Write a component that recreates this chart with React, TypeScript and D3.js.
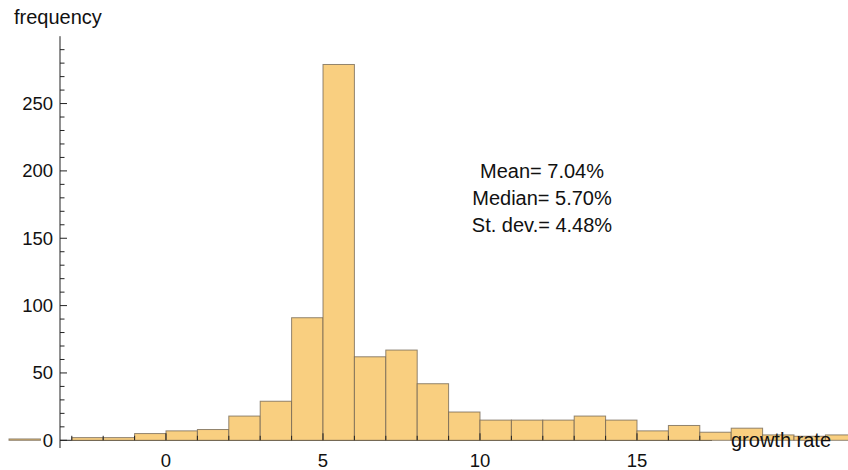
import React, { useEffect, useRef } from "react";
import * as d3 from "d3";

// histogram bins (left edges, width 1) and their counts
const binStarts = [-5, -4, -3, -2, -1, 0, 1, 2, 3, 4, 5, 6, 7, 8, 9, 10, 11, 12, 13, 14, 15, 16, 17, 18, 19, 20, 21];
const counts = [1, 0, 2, 2, 5, 7, 8, 18, 29, 91, 279, 62, 67, 42, 21, 15, 15, 15, 18, 15, 7, 11, 6, 9, 4, 3, 4];

const xTicks = [0, 5, 10, 15];
const yTicks = [0, 50, 100, 150, 200, 250];
const statLines = ["Mean= 7.04%", "Median= 5.70%", "St. dev.= 4.48%"];

const FONT = "'Liberation Sans', Arial, sans-serif";

const App: React.FC = () => {
  const svgRef = useRef<SVGSVGElement | null>(null);

  useEffect(() => {
    const svg = d3.select(svgRef.current);
    const width = 848;
    const height = 470;

    svg.selectAll("*").remove();

    const xScale = d3.scaleLinear().domain([-5, 22]).range([9, 9 + 27 * 31.4]);
    const yScale = d3.scaleLinear().domain([0, 300]).range([440.3, 36.2]);
    const axisX = 60;
    const y0 = yScale(0);

    const bins = binStarts.map((s, i) => ({ x0: s, x1: s + 1, n: counts[i] }));

    // x axis line (stops before the axis label)
    svg
      .append("line")
      .attr("x1", axisX)
      .attr("x2", 712)
      .attr("y1", y0)
      .attr("y2", y0)
      .attr("stroke", "#222")
      .attr("stroke-width", 1);

    // bars
    svg
      .selectAll("rect.bar")
      .data(bins.filter((d) => d.n > 0))
      .join("rect")
      .attr("class", "bar")
      .attr("x", (d) => xScale(d.x0))
      .attr("y", (d) => yScale(d.n))
      .attr("width", (d) => xScale(d.x1) - xScale(d.x0))
      .attr("height", (d) => y0 - yScale(d.n))
      .attr("fill", "#f9cf80")
      .attr("stroke", "#6e6150")
      .attr("stroke-opacity", 0.75)
      .attr("stroke-width", 1);

    // x ticks
    const minorX = d3.range(-3, 18);
    svg
      .selectAll("line.xtick")
      .data(minorX)
      .join("line")
      .attr("class", "xtick")
      .attr("x1", (d) => xScale(d))
      .attr("x2", (d) => xScale(d))
      .attr("y1", y0)
      .attr("y2", (d) => (xTicks.includes(d) ? y0 - 7 : y0 - 4.5))
      .attr("stroke", "#222")
      .attr("stroke-width", 1);

    svg
      .selectAll("text.xlabel")
      .data(xTicks)
      .join("text")
      .attr("class", "xlabel")
      .attr("x", (d) => xScale(d))
      .attr("y", 467)
      .attr("text-anchor", "middle")
      .style("font-family", FONT)
      .style("font-size", "18.5px")
      .attr("fill", "#111")
      .text((d) => d);

    // y axis
    svg
      .append("line")
      .attr("x1", axisX)
      .attr("x2", axisX)
      .attr("y1", yScale(300))
      .attr("y2", 448)
      .attr("stroke", "#222")
      .attr("stroke-width", 1);

    const minorY = d3.range(0, 300, 10);
    svg
      .selectAll("line.ytick")
      .data(minorY)
      .join("line")
      .attr("class", "ytick")
      .attr("x1", axisX)
      .attr("x2", (d) => (d % 50 === 0 ? axisX + 7 : axisX + 4.5))
      .attr("y1", (d) => yScale(d))
      .attr("y2", (d) => yScale(d))
      .attr("stroke", "#222")
      .attr("stroke-width", 1);

    svg
      .selectAll("text.ylabel")
      .data(yTicks)
      .join("text")
      .attr("class", "ylabel")
      .attr("x", 53)
      .attr("y", (d) => yScale(d))
      .attr("dy", "0.35em")
      .attr("text-anchor", "end")
      .style("font-family", FONT)
      .style("font-size", "18.5px")
      .attr("fill", "#111")
      .text((d) => d);

    // axis labels
    svg
      .append("text")
      .attr("x", 14)
      .attr("y", 24)
      .style("font-family", FONT)
      .style("font-size", "20px")
      .attr("fill", "#111")
      .text("frequency");

    svg
      .append("text")
      .attr("x", 731)
      .attr("y", 447)
      .style("font-family", FONT)
      .style("font-size", "20px")
      .attr("fill", "#111")
      .text("growth rate");

    // statistics
    svg
      .selectAll("text.stat")
      .data(statLines)
      .join("text")
      .attr("class", "stat")
      .attr("x", 542)
      .attr("y", (_, i) => 178.3 + i * 27)
      .attr("text-anchor", "middle")
      .style("font-family", FONT)
      .style("font-size", "20px")
      .attr("fill", "#111")
      .text((d) => d);

    svg.attr("width", width).attr("height", height);
  }, []);

  return (
    <svg
      ref={svgRef}
      style={{ position: "absolute", left: 0, top: 0, background: "#fff" }}
    ></svg>
  );
};

export default App;
